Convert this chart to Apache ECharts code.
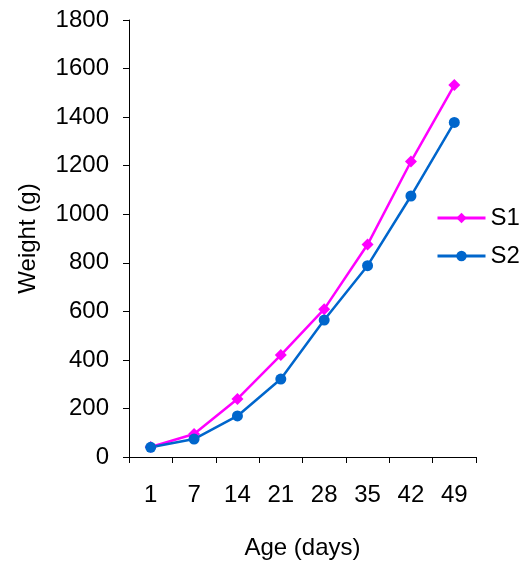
<!DOCTYPE html>
<html><head><meta charset="utf-8">
<script src="https://cdn.jsdelivr.net/npm/echarts@6/dist/echarts.min.js"></script>
<style>html,body{margin:0;padding:0;background:#fff}#c{width:525px;height:567px}</style>
</head><body><div id="c"></div>
<script>
const categories = ['1','7','14','21','28','35','42','49'];
const s1 = [41, 95, 239, 420, 609, 875, 1217, 1532];
const s2 = [40, 74, 169, 321, 564, 788, 1075, 1378];
const yTicks = {min:0, max:1800, interval:200};
const font = 'Liberation Sans, Arial, sans-serif';
const chart = echarts.init(document.getElementById('c'), null, {renderer:'canvas'});
chart.setOption({
  animation:false,
  backgroundColor:'#fff',
  grid:{left:129, right:49, top:20, bottom:110, containLabel:false},
  legend:{
    orient:'vertical', left:431, top:201, itemGap:14, itemWidth:48, itemHeight:13, padding:5,
    textStyle:{fontFamily:font, fontSize:24, color:'#000'},
    lineStyle:{width:3},
    data:[{name:'S1'},{name:'S2'}]
  },
  xAxis:{
    type:'category', data:categories, boundaryGap:true,
    name:'Age (days)', nameLocation:'middle', nameGap:79,
    nameTextStyle:{fontFamily:font, fontSize:24, color:'#000'},
    axisLine:{lineStyle:{color:'#000', width:1}},
    axisTick:{show:true, length:6, inside:false, alignWithLabel:false, lineStyle:{color:'#000'}},
    axisLabel:{fontFamily:font, fontSize:24, color:'#000', margin:26}
  },
  yAxis:{
    type:'value', min:yTicks.min, max:yTicks.max, interval:yTicks.interval,
    name:'Weight (g)', nameLocation:'middle', nameGap:89, nameRotate:90,
    nameTextStyle:{fontFamily:font, fontSize:24, color:'#000'},
    splitLine:{show:false},
    axisLine:{show:true, lineStyle:{color:'#000', width:1}},
    axisTick:{show:true, length:6, lineStyle:{color:'#000'}},
    axisLabel:{fontFamily:font, fontSize:24, color:'#000', margin:20, formatter:v => String(v)}
  },
  series:[
    {name:'S1', type:'line', data:s1, symbol:'diamond', symbolSize:12,
     lineStyle:{color:'#ff00ff', width:2.5}, itemStyle:{color:'#ff00ff'}},
    {name:'S2', type:'line', data:s2, symbol:'circle', symbolSize:11,
     lineStyle:{color:'#0066cc', width:2.5}, itemStyle:{color:'#0066cc'}}
  ]
});
</script></body></html>
